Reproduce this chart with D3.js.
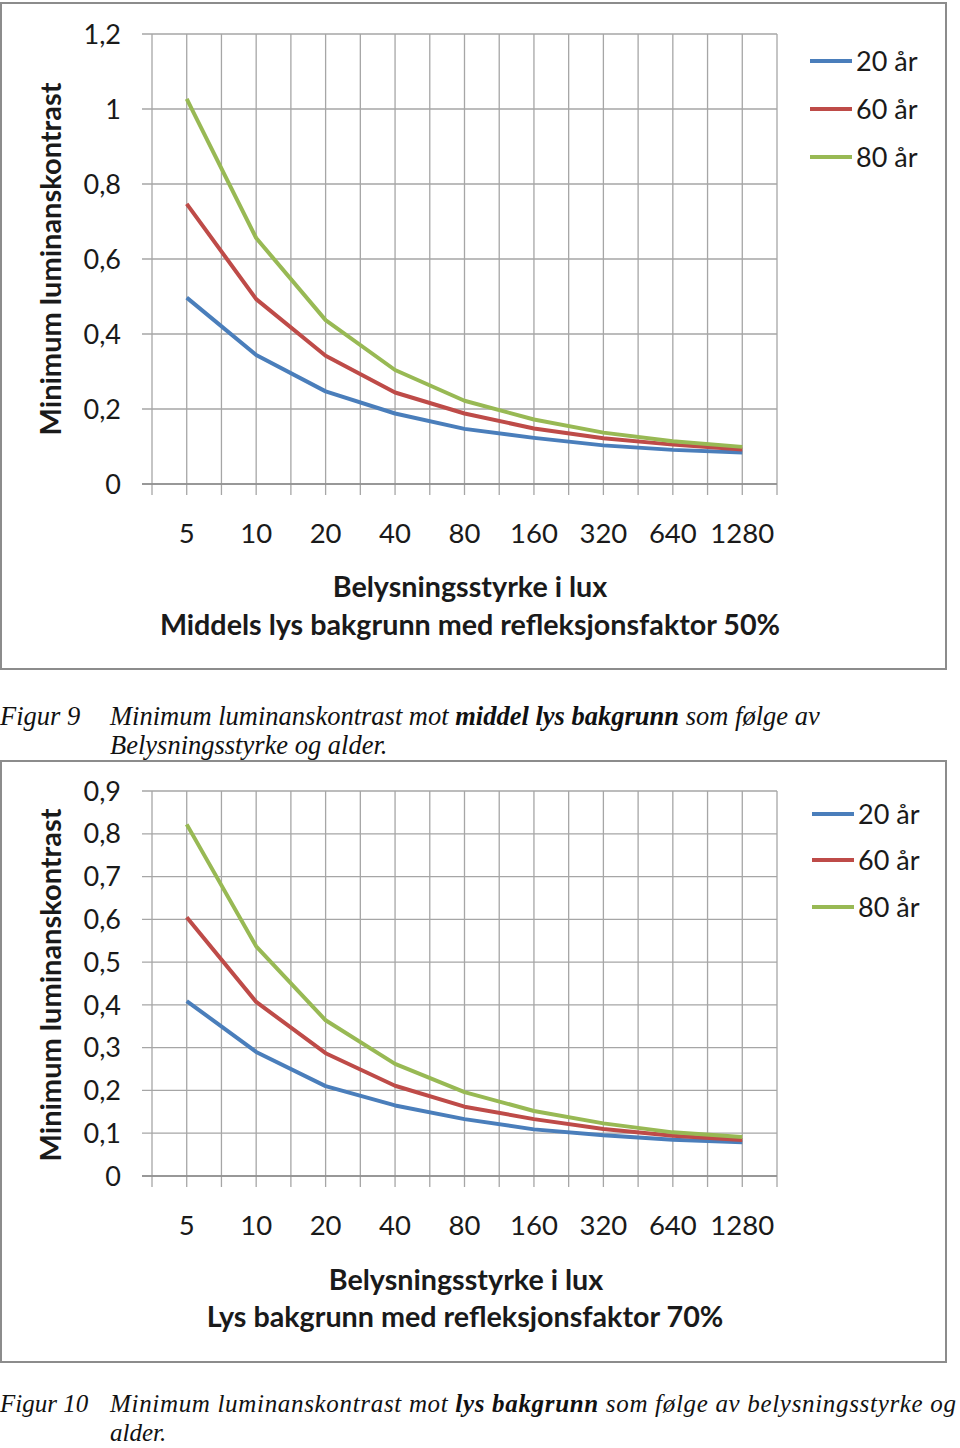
<!DOCTYPE html>
<html><head><meta charset="utf-8">
<script src="https://cdn.jsdelivr.net/npm/d3@7"></script>
<style>body{margin:0;background:#fff}svg{display:block}</style>
</head><body>
<svg id="c" width="960" height="1448"></svg>
<script>
const categories = ["5","10","20","40","80","160","320","640","1280"];
const seriesNames = ["20 år","60 år","80 år"];
const colors = ["#4a7ebb","#be4b48","#98b954"];

const chart1_20 = [0.497,0.344,0.247,0.188,0.147,0.123,0.103,0.091,0.084];
const chart1_60 = [0.747,0.493,0.342,0.244,0.188,0.148,0.122,0.105,0.092];
const chart1_80 = [1.027,0.656,0.437,0.304,0.222,0.172,0.137,0.114,0.099];
const chart1Ticks = [0,0.2,0.4,0.6,0.8,1,1.2];

const chart2_20 = [0.409,0.290,0.210,0.165,0.133,0.109,0.095,0.085,0.079];
const chart2_60 = [0.605,0.407,0.287,0.211,0.162,0.133,0.110,0.094,0.084];
const chart2_80 = [0.822,0.537,0.364,0.262,0.196,0.152,0.123,0.102,0.091];
const chart2Ticks = [0,0.1,0.2,0.3,0.4,0.5,0.6,0.7,0.8,0.9];

const svg = d3.select("#c");
svg.append("rect").attr("width",960).attr("height",1448).attr("fill","#fff");
const FONT = "Lato, 'Open Sans', sans-serif";
const fmt = v => d3.format("~g")(v).replace(".", ",");

function drawChart(o){
  const g = svg.append("g");
  g.append("rect").attr("x",o.box[0]).attr("y",o.box[1]).attr("width",o.box[2]).attr("height",o.box[3])
    .attr("fill","#fff").attr("stroke","#8c8c8c").attr("stroke-width",2);
  const x = d3.scaleBand().domain(categories).range([o.left,o.right]).padding(0);
  const grid = d3.scaleLinear().domain([0,categories.length]).range([o.left,o.right]);
  const y = d3.scaleLinear().domain([0,o.max]).range([o.bottom,o.top]);
  g.selectAll(".hg").data(o.ticks).join("line")
    .attr("x1",o.left-10).attr("x2",o.right)
    .attr("y1",d=>y(d)).attr("y2",d=>y(d))
    .attr("stroke","#a6a6a6").attr("stroke-width",1.3);
  const vs = d3.range(0, categories.length+0.01, 0.5);
  g.selectAll(".vg").data(vs).join("line")
    .attr("x1",d=>grid(d)).attr("x2",d=>grid(d))
    .attr("y1",o.top).attr("y2",o.bottom+11)
    .attr("stroke","#a6a6a6").attr("stroke-width",1.3);
  g.append("line").attr("x1",o.left-10).attr("x2",o.right).attr("y1",o.bottom).attr("y2",o.bottom)
    .attr("stroke","#8c8c8c").attr("stroke-width",1.5);
  g.selectAll(".yl").data(o.ticks).join("text")
    .attr("x",121).attr("y",d=>y(d)).attr("dy","0.36em").attr("text-anchor","end")
    .attr("font-family",FONT).attr("font-size",27).attr("fill","#1a1a1a").text(fmt);
  g.selectAll(".xl").data(categories).join("text")
    .attr("x",d=>x(d)+x.bandwidth()/2).attr("y",o.bottom+49).attr("dy","0.36em").attr("text-anchor","middle")
    .attr("font-family",FONT).attr("font-size",27.5).attr("fill","#1a1a1a").text(d=>d);
  const line = d3.line().x((d,i)=>x(categories[i])+x.bandwidth()/2).y(d=>y(d));
  o.series.forEach((s,i)=>{
    g.append("path").attr("d",line(s)).attr("fill","none").attr("stroke",colors[i])
      .attr("stroke-width",4).attr("stroke-linejoin","round");
  });
  g.append("text").attr("transform",`translate(61,${o.ytitleY}) rotate(-90)`)
    .attr("text-anchor","middle").attr("font-family",FONT).attr("font-weight","bold")
    .attr("font-size",29).attr("fill","#1a1a1a").text("Minimum luminanskontrast");
  o.xtitles.forEach((t,i)=>{
    g.append("text").attr("x",t[1]).attr("y",t[2]).attr("dy","0.36em").attr("text-anchor","middle")
      .attr("font-family",FONT).attr("font-weight","bold").attr("font-size",28.7).attr("fill","#1a1a1a").text(t[0]);
  });
  seriesNames.forEach((n,i)=>{
    const ly = o.legendY[i];
    g.append("line").attr("x1",o.legendX).attr("x2",o.legendX+42).attr("y1",ly).attr("y2",ly)
      .attr("stroke",colors[i]).attr("stroke-width",4);
    g.append("text").attr("x",o.legendX+46).attr("y",ly).attr("dy","0.36em")
      .attr("font-family",FONT).attr("font-size",27).attr("fill","#1a1a1a").text(n);
  });
}

drawChart({box:[1,3,945,666], left:152, right:777, top:34, bottom:484, max:1.2, ticks:chart1Ticks,
  series:[chart1_20,chart1_60,chart1_80], ytitleY:259,
  xtitles:[["Belysningsstyrke i lux",470,587],["Middels lys bakgrunn med refleksjonsfaktor 50%",470,625]],
  legendX:810, legendY:[61,109,157]});

drawChart({box:[1,761,945,601], left:152, right:777, top:791, bottom:1176, max:0.9, ticks:chart2Ticks,
  series:[chart2_20,chart2_60,chart2_80], ytitleY:985,
  xtitles:[["Belysningsstyrke i lux",466,1280],["Lys bakgrunn med refleksjonsfaktor 70%",465,1317]],
  legendX:812, legendY:[814,860,907]});

const SERIF = "'Liberation Serif','DejaVu Serif',serif";
function caption(label, lines, y0, gap, size, firstLen){
  const g = svg.append("g").attr("font-family",SERIF).attr("font-style","italic").attr("font-size",size).attr("fill","#111");
  g.append("text").attr("x",0).attr("y",y0).text(label);
  lines.forEach((parts,i)=>{
    const t = g.append("text").attr("x",110).attr("y",y0+gap*i);
    if(i===0 && firstLen) t.attr("textLength",firstLen).attr("lengthAdjust","spacing");
    parts.forEach(p=>t.append("tspan").attr("font-weight",p[1]?"bold":"normal").text(p[0]));
  });
}
caption("Figur 9", [[["Minimum luminanskontrast mot ",0],["middel lys bakgrunn",1],[" som følge av",0]],[["Belysningsstyrke og alder.",0]]], 725, 29, 26.5, null);
caption("Figur 10", [[["Minimum luminanskontrast mot ",0],["lys bakgrunn",1],[" som følge av belysningsstyrke og",0]],[["alder.",0]]], 1412, 29, 25, 846);
</script>
</body></html>
